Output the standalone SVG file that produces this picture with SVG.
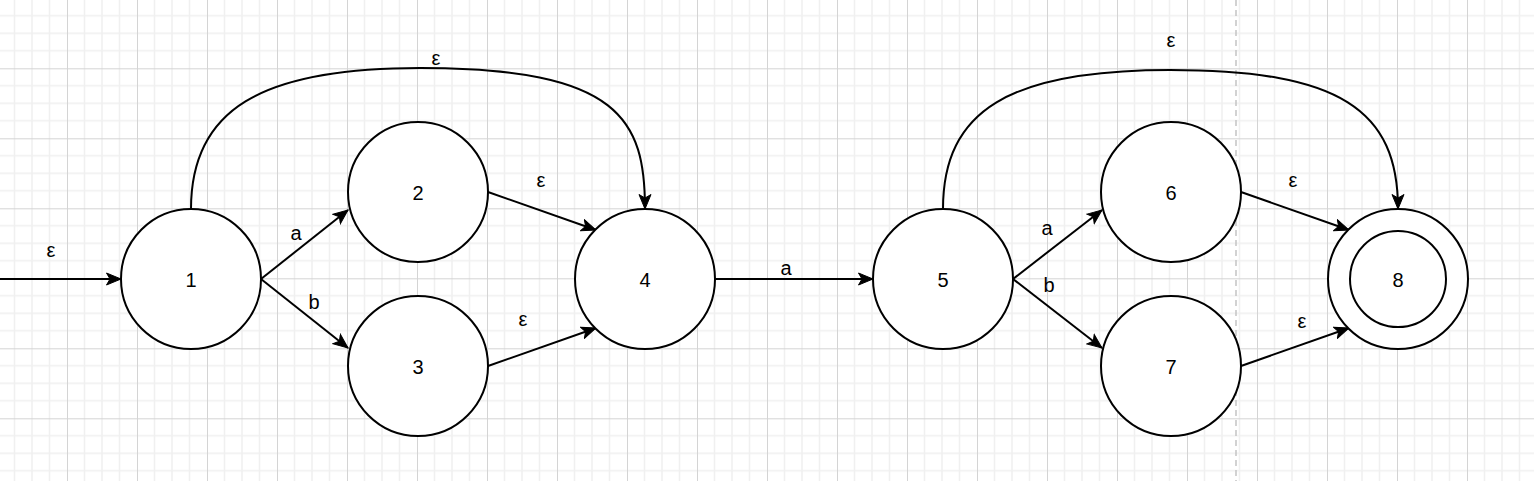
<svg xmlns="http://www.w3.org/2000/svg" width="1534" height="481" viewBox="0 0 1534 481">
  <style>
    .node circle { fill: #ffffff; stroke: #000000; stroke-width: 2; }
    .node text, .lbl { font-family: "Liberation Sans", Arial, Helvetica, sans-serif; font-size: 20px; fill: #000000; text-anchor: middle; }
    .edge { fill: none; stroke: #000000; stroke-width: 2; marker-end: url(#arrow); }
  </style>
  <defs>
    <pattern id="grid" patternUnits="userSpaceOnUse" x="-3" y="-1.7" width="70" height="70">
      <path d="M17.5,0 V70 M35,0 V70 M52.5,0 V70 M0,17.5 H70 M0,35 H70 M0,52.5 H70" stroke="#f0f0f0" stroke-width="1.5" fill="none"/>
      <path d="M0.5,0 V70 M0,0.5 H70" stroke="#d4d4d4" stroke-width="1" fill="none"/>
    </pattern>
    <marker id="arrow" markerUnits="userSpaceOnUse" viewBox="0 0 16 14" refX="15" refY="7" markerWidth="16" markerHeight="14" orient="auto">
      <path d="M0.5,1 L15,7 L0.5,13 L4,7 Z" fill="#000000" stroke="#000000" stroke-width="1"/>
    </marker>
  </defs>
  <rect width="1534" height="481" fill="#ffffff"/>
  <rect width="1534" height="481" fill="url(#grid)"/>
  <line x1="1236" y1="0" x2="1236" y2="481" stroke="#c4c4c4" stroke-width="1.5" stroke-dasharray="6 4"/>

  <g id="connectors">
    <line class="edge" x1="0" y1="279" x2="121" y2="279"/>
    <line class="edge" x1="261" y1="279" x2="348" y2="210"/>
    <line class="edge" x1="261" y1="279" x2="348" y2="348"/>
    <line class="edge" x1="488" y1="192" x2="596" y2="230"/>
    <line class="edge" x1="488" y1="366" x2="596" y2="328"/>
    <line class="edge" x1="715" y1="279" x2="873" y2="279"/>
    <line class="edge" x1="1013" y1="279" x2="1102" y2="210"/>
    <line class="edge" x1="1013" y1="279" x2="1102" y2="348"/>
    <line class="edge" x1="1241" y1="192" x2="1349" y2="230"/>
    <line class="edge" x1="1241" y1="366" x2="1349" y2="328"/>
    <path class="edge" d="M191,209 C191,110 260,68 420,68 C620,68 645,120 645,209"/>
    <path class="edge" d="M943,209 C943,110 1010,70 1170,70 C1340,70 1398,110 1398,209"/>
    <text class="lbl" x="51" y="257">ε</text>
    <text class="lbl" x="296" y="240">a</text>
    <text class="lbl" x="314" y="309">b</text>
    <text class="lbl" x="541" y="187">ε</text>
    <text class="lbl" x="523" y="326">ε</text>
    <text class="lbl" x="436" y="65">ε</text>
    <text class="lbl" x="786" y="275">a</text>
    <text class="lbl" x="1047" y="235">a</text>
    <text class="lbl" x="1049" y="292">b</text>
    <text class="lbl" x="1293" y="187">ε</text>
    <text class="lbl" x="1302" y="328">ε</text>
    <text class="lbl" x="1171" y="47">ε</text>
  </g>

  <g id="node1" class="node"><circle cx="191" cy="279" r="70"/><text x="191" y="287">1</text></g>
  <g id="node2" class="node"><circle cx="418" cy="192" r="70"/><text x="418" y="200">2</text></g>
  <g id="node3" class="node"><circle cx="418" cy="366" r="70"/><text x="418" y="374">3</text></g>
  <g id="node4" class="node"><circle cx="645" cy="279" r="70"/><text x="645" y="287">4</text></g>
  <g id="node5" class="node"><circle cx="943" cy="279" r="70"/><text x="943" y="287">5</text></g>
  <g id="node6" class="node"><circle cx="1171" cy="192" r="70"/><text x="1171" y="200">6</text></g>
  <g id="node7" class="node"><circle cx="1171" cy="366" r="70"/><text x="1171" y="374">7</text></g>
  <g id="node8" class="node"><circle cx="1398" cy="279" r="70"/><circle cx="1398" cy="279" r="48"/><text x="1398" y="287">8</text></g>
</svg>
